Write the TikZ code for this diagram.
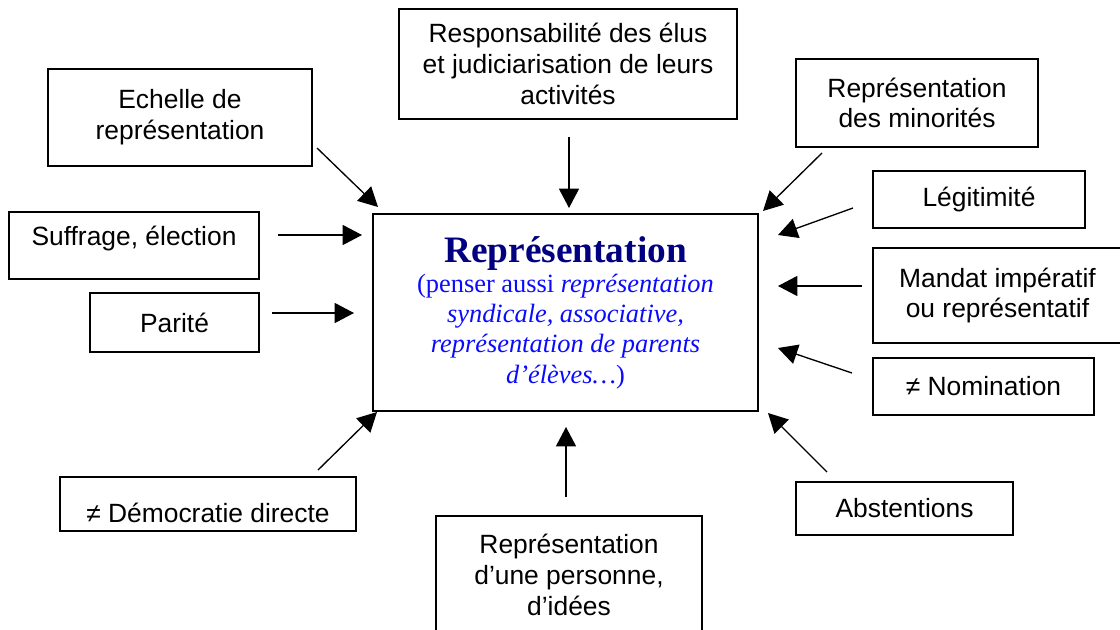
\documentclass[tikz,border=0pt]{standalone}
\usepackage{fontspec}
\setmainfont{Liberation Serif}
\newfontfamily\arial{Liberation Sans}
\usetikzlibrary{arrows.meta}
\definecolor{marine}{RGB}{0,0,128}
\definecolor{bleu}{RGB}{10,10,255}
\begin{document}
\begin{tikzpicture}[x=0.75pt,y=-0.75pt,
		boite/.style={draw,line width=1.2pt,align=center,inner sep=0pt,font=\arial\fontsize{19.8}{23}\selectfont},
		fleche/.style={line width=1pt,-{Triangle[length=14.5pt,width=15pt]}}]
				\useasboundingbox (0,0) rectangle (1120,629);
				\clip (0,0) rectangle (1120,629);
				\node[boite,minimum width=288.75pt,minimum height=147.75pt,font=\fontsize{19.8}{22.7}\selectfont,text=bleu] (repr) at (565.5,312.5)
					{{\fontsize{28}{30}\selectfont\bfseries\color{marine}Représentation}\\(penser aussi \textit{représentation}\\\textit{syndicale, associative,}\\\textit{représentation de parents}\\\textit{d’élèves…})};
				\node[boite,minimum width=198pt,minimum height=72.75pt] (echelle) at (180,117.5) {Echelle de\\représentation};
				\node[boite,minimum width=253.5pt,minimum height=82.5pt] (resp) at (568,64) {Responsabilité des élus\\et judiciarisation de leurs\\activités};
				\node[boite,minimum width=181.5pt,minimum height=66pt] (minor) at (917,103) {Représentation\\des minorités};
				\node[boite,minimum width=159pt,minimum height=42.75pt] (legit) at (979,199.5) {Légitimité};
				\node[boite,minimum width=187.5pt,minimum height=50.25pt,text height=14pt,text depth=14pt] (suffr) at (134,245.5) {Suffrage, élection};
				\node[boite,minimum width=186.75pt,minimum height=71.25pt] (mandat) at (997.5,295.5) {Mandat impératif\\ou représentatif};
				\node[boite,minimum width=126.75pt,minimum height=44.25pt] (parite) at (174.5,322.5) {Parité};
				\node[boite,minimum width=165.75pt,minimum height=42.75pt] (nomin) at (983.5,386.5) {≠ Nomination};
				\node[boite,minimum width=222pt,minimum height=40.5pt,text height=28pt,text depth=0pt] (democ) at (208,504) {≠ Démocratie directe};
				\node[boite,minimum width=162.75pt,minimum height=39.75pt] (abst) at (904.5,508.5) {Abstentions};
				\node[boite,minimum width=199.5pt,minimum height=88.5pt] (pers) at (569,575) {Représentation\\d’une personne,\\d’idées};
				\coordinate (echelle-d) at (317,148); \coordinate (echelle-f) at (378,207);
				\coordinate (resp-d) at (569,137); \coordinate (resp-f) at (569,208);
				\coordinate (minor-d) at (822,153); \coordinate (minor-f) at (763,211);
				\coordinate (legit-d) at (853,208); \coordinate (legit-f) at (778,235);
				\coordinate (suffr-d) at (278,235); \coordinate (suffr-f) at (362,235);
				\coordinate (mandat-d) at (862,286); \coordinate (mandat-f) at (778,286);
				\coordinate (parite-d) at (272,313); \coordinate (parite-f) at (354,313);
				\coordinate (nomin-d) at (852,373); \coordinate (nomin-f) at (778,348);
				\coordinate (democ-d) at (318,470); \coordinate (democ-f) at (377,412);
				\coordinate (pers-d) at (566,497); \coordinate (pers-f) at (566,427);
				\coordinate (abst-d) at (827,472); \coordinate (abst-f) at (768,413);
				\draw[fleche] (echelle-d) -- (echelle-f);
				\draw[fleche] (resp-d) -- (resp-f);
				\draw[fleche] (minor-d) -- (minor-f);
				\draw[fleche] (legit-d) -- (legit-f);
				\draw[fleche] (suffr-d) -- (suffr-f);
				\draw[fleche] (mandat-d) -- (mandat-f);
				\draw[fleche] (parite-d) -- (parite-f);
				\draw[fleche] (nomin-d) -- (nomin-f);
				\draw[fleche] (democ-d) -- (democ-f);
				\draw[fleche] (pers-d) -- (pers-f);
				\draw[fleche] (abst-d) -- (abst-f);
			\end{tikzpicture}
\end{document}
